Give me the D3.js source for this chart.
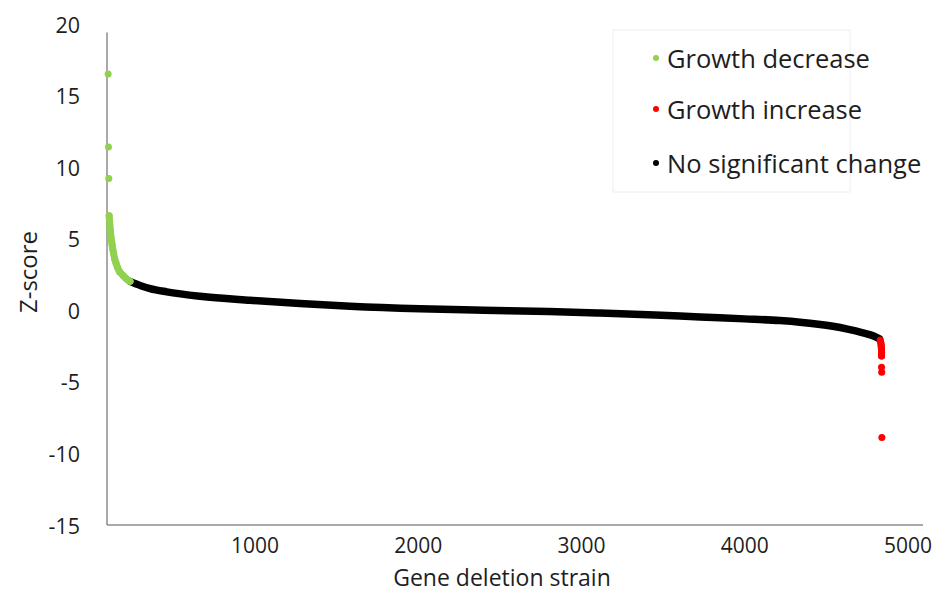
<!DOCTYPE html>
<html><head><meta charset="utf-8">
<script src="https://cdn.jsdelivr.net/npm/d3@7"></script>
<style>body{margin:0;background:#fff} text{font-family:"Open Sans",sans-serif;fill:#1e1e1e}</style>
</head><body><svg id="c" width="936" height="594"></svg>
<script>
// ---- data ----
const yTicks = [20, 15, 10, 5, 0, -5, -10, -15];
const xTicks = [1000, 2000, 3000, 4000, 5000];

// Growth decrease: isolated outliers
const greenOutX = [100, 102, 104];
const greenOutZ = [16.5, 11.4, 9.2];
// Growth decrease: dense cluster
const greenX = [106, 108, 110, 112, 114, 117, 120, 124, 128, 133, 140, 148, 157, 170, 190, 210, 234];
const greenZ = [6.6, 6.3, 6.0, 5.7, 5.45, 5.15, 4.9, 4.6, 4.3, 4.0, 3.6, 3.3, 3.0, 2.7, 2.45, 2.22, 2.02];

// No significant change
const blackX = [234, 300, 357, 459, 663, 969, 1276, 1582, 2011, 2400, 2800, 3113, 3450, 3726, 4000, 4216, 4338, 4450, 4540, 4630, 4724, 4790, 4825];
const blackZ = [2.02, 1.72, 1.52, 1.29, 0.98, 0.70, 0.47, 0.28, 0.10, 0.0, -0.08, -0.19, -0.33, -0.47, -0.6, -0.72, -0.83, -0.97, -1.12, -1.32, -1.58, -1.8, -2.0];

// Growth increase: dense band
const redX = [4830, 4834, 4836, 4837, 4838, 4838, 4838, 4838];
const redZ = [-2.1, -2.3, -2.5, -2.65, -2.8, -2.95, -3.1, -3.2];
// Growth increase: outliers
const redOutX = [4838, 4839, 4840];
const redOutZ = [-3.98, -4.33, -8.89];

const legendLabels = ["Growth decrease", "Growth increase", "No significant change"];
const legendColors = ["#92D050", "#FF0000", "#000000"];

// ---- chart ----
const svg = d3.select("#c");
const x = d3.scaleLinear().domain([93, 5092]).range([107, 923]);
const y = d3.scaleLinear().domain([-15, 20]).range([525, 24]);

// axes lines
svg.append("line").attr("x1", x(93)).attr("x2", x(93)).attr("y1", y(19.4)).attr("y2", y(-15))
  .attr("stroke", "#8c8c8c").attr("stroke-width", 1.5);
svg.append("line").attr("x1", x(93)).attr("x2", x(5092)).attr("y1", y(-15)).attr("y2", y(-15))
  .attr("stroke", "#8c8c8c").attr("stroke-width", 1.5);

// tick labels
svg.selectAll(".yt").data(yTicks).join("text").attr("class", "yt")
  .attr("x", 80).attr("y", d => y(d)).attr("text-anchor", "end")
  .attr("dominant-baseline", "central").style("font-size", "21.5px").text(d => d);
svg.selectAll(".xt").data(xTicks).join("text").attr("class", "xt")
  .attr("x", d => x(d)).attr("y", 545).attr("text-anchor", "middle")
  .attr("dominant-baseline", "central").style("font-size", "21px").text(d => d);

// axis titles
svg.append("text").attr("x", 502).attr("y", 577).attr("text-anchor", "middle")
  .attr("dominant-baseline", "central").style("font-size", "23px").text("Gene deletion strain");
svg.append("text").attr("transform", "translate(27,272) rotate(-90)").attr("text-anchor", "middle")
  .attr("dominant-baseline", "central").style("font-size", "24px").text("Z-score");

// series
function pts(xs, zs) { return xs.map((v, i) => [v, zs[i]]); }
const lineMono = d3.line().x(d => x(d[0])).y(d => y(d[1])).curve(d3.curveMonotoneX);
const lineLin = d3.line().x(d => x(d[0])).y(d => y(d[1]));

const blackPts = pts(blackX, blackZ);
svg.append("path").attr("d", lineMono(blackPts)).attr("fill", "none")
  .attr("stroke", "#000").attr("stroke-width", 7.5).attr("stroke-linecap", "round");

const greenPts = pts(greenX, greenZ);
svg.append("path").attr("d", lineMono(greenPts)).attr("fill", "none")
  .attr("stroke", legendColors[0]).attr("stroke-width", 7).attr("stroke-linecap", "round");
svg.selectAll(".g").data(greenPts.concat(pts(greenOutX, greenOutZ))).join("circle").attr("class", "g")
  .attr("cx", d => x(d[0])).attr("cy", d => y(d[1])).attr("r", 3.5).attr("fill", legendColors[0]);

const redPts = pts(redX, redZ);
svg.append("path").attr("d", lineLin(redPts)).attr("fill", "none")
  .attr("stroke", legendColors[1]).attr("stroke-width", 7).attr("stroke-linecap", "round");
svg.selectAll(".r").data(redPts.concat(pts(redOutX, redOutZ))).join("circle").attr("class", "r")
  .attr("cx", d => x(d[0])).attr("cy", d => y(d[1])).attr("r", 3.5).attr("fill", legendColors[1]);

// legend
svg.append("rect").attr("x", 613).attr("y", 30).attr("width", 237).attr("height", 162)
  .attr("fill", "#fff").attr("stroke", "#eeeeee").attr("stroke-width", 1);
const lg = svg.selectAll(".lg").data(legendLabels).join("g").attr("class", "lg")
  .attr("transform", (d, i) => `translate(656,${[58, 109, 163][i]})`);
lg.append("circle").attr("r", 3).attr("fill", (d, i) => legendColors[i]);
lg.append("text").attr("x", 11).attr("dominant-baseline", "central")
  .style("font-size", "25.5px").text(d => d);
</script></body></html>
